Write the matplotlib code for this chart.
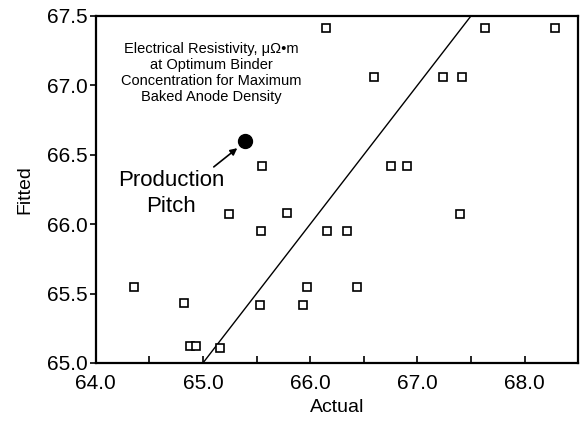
import matplotlib.pyplot as plt

# fitted vs actual electrical resistivity (uOhm*m)
actual = [64.36, 64.82, 64.88, 64.93, 65.16, 65.24, 65.54, 65.55, 65.53, 65.78,
          65.93, 65.97, 66.15, 66.16, 66.34, 66.44, 66.60, 66.75, 66.90, 67.24,
          67.40, 67.42, 67.63, 68.28]
fitted = [65.55, 65.43, 65.12, 65.12, 65.11, 66.07, 65.95, 66.42, 65.42, 66.08,
          65.42, 65.55, 67.41, 65.95, 65.95, 65.55, 67.06, 66.42, 66.42, 67.06,
          66.07, 67.06, 67.41, 67.41]

pitch_actual = 65.39
pitch_fitted = 66.60

x_ticks = [64.0, 65.0, 66.0, 67.0, 68.0]
y_ticks = [65.0, 65.5, 66.0, 66.5, 67.0, 67.5]

plt.rcParams['font.family'] = ['Liberation Sans', 'DejaVu Sans']

fig = plt.figure(figsize=(5.81, 4.21), dpi=100)
ax = fig.add_axes([0.165, 0.138, 0.83, 0.824])

# y = x reference line
ax.plot([65.0, 67.5], [65.0, 67.5], color='black', lw=1.0)

ax.plot(actual, fitted, 's', ms=6, mfc='white', mec='black', mew=1.2)
ax.plot(pitch_actual, pitch_fitted, 'o', ms=10, color='black')

ax.annotate('', xy=(pitch_actual - 0.05, pitch_fitted - 0.04), xytext=(65.08, 66.40),
            arrowprops=dict(arrowstyle='-|>', color='black', lw=1.2,
                            mutation_scale=10))
ax.text(64.70, 66.22, 'Production\nPitch', ha='center', va='center',
        fontsize=16, linespacing=1.3)
ax.text(65.08, 67.09, 'Electrical Resistivity, \u03bc\u03a9\u2022m\nat Optimum Binder\n'
        'Concentration for Maximum\nBaked Anode Density',
        ha='center', va='center', fontsize=10.5, linespacing=1.2)

ax.set_xlim(64.0, 68.5)
ax.set_ylim(65.0, 67.5)
ax.set_xticks(x_ticks)
ax.set_xticklabels([f'{v:.1f}' for v in x_ticks])
ax.set_xticks([64.5, 65.5, 66.5, 67.5], minor=True)
ax.set_yticks(y_ticks)
ax.set_yticklabels([f'{v:.1f}' for v in y_ticks])
ax.tick_params(axis='x', which='both', direction='in', length=5, width=1.2,
               labelsize=15, pad=8)
ax.tick_params(axis='y', direction='out', length=4, width=1.2, labelsize=15, pad=2)

for s in ax.spines.values():
    s.set_linewidth(1.6)

ax.set_xlabel('Actual', fontsize=14, labelpad=4)
ax.set_ylabel('Fitted', fontsize=14, labelpad=10)

fig.savefig('out.png', dpi=100)
